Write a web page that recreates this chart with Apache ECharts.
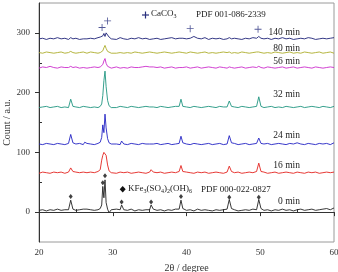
<!DOCTYPE html>
<html>
<head>
<meta charset="utf-8">
<script src="https://cdn.jsdelivr.net/npm/echarts@6/dist/echarts.min.js"></script>
<style>
  html, body { margin: 0; padding: 0; background: #fff; }
  #chart { width: 338px; height: 272px; }
</style>
</head>
<body>
<div id="chart"></div>
<script>
// 2θ positions, shared by every pattern (finer around the peaks)
const twoTheta = [
  20, 20.5, 21, 21.5, 22, 22.5, 23, 23.5, 24,
  24.3, 24.6,
  25, 25.5, 26,
  26.2, 26.5,
  27, 27.5, 28,
  28.3, 28.5, 28.65, 28.8, 28.95, 29.1, 29.3, 29.5, 29.8,
  30, 30.5, 31,
  31.2, 31.5,
  32, 32.5, 33, 33.5, 34, 34.5, 35,
  35.2, 35.5,
  36, 36.5, 37, 37.5, 38, 38.5, 39,
  39.25, 39.5,
  40, 40.5, 41, 41.5, 42, 42.5, 43, 43.5, 44, 44.5, 45, 45.5,
  45.8, 46.1,
  46.5, 47, 47.5, 48, 48.5, 49, 49.5,
  49.8, 50.1,
  50.5, 51, 51.5, 52, 52.5, 53, 53.5, 54, 54.5, 55, 55.5, 56, 56.5, 57, 57.5, 58, 58.5, 59, 59.5, 60
]

// intensity above each pattern's own baseline
const counts0 = [
  1, 2, 0, 2, 1, 3, 1, 2, 2,
  18, 3,
  1, 2, 3,
  6, 3,
  2, 1, 2,
  4, 10, 41, 22, 52, 14, 3, -3, 2,
  1, 3, 2,
  10, 2,
  1, 3, 0, 2, 1, 2, 2,
  10, 3,
  1, 2, 0, 2, 1, 3, 3,
  18, 4,
  1, 2, 0, 3, 1, 2, 1, 0, 2, 1, 2, 3,
  19, 4,
  2, 0, 1, 2, 1, 3, 2,
  19, 4,
  1, 2, 0, 2, 1, 3, 1, 2, 0, 2, 3, 1, 2, 3, 1, 2, 3, 4, 2, 5
]
const counts16 = [
  0, 2, 1, 0, 2, 1, 2, 0, 2,
  9, 3,
  2, 1, 2,
  3, 1,
  2, 1, 3,
  6, 22, 30, 35, 38, 30, 14, 4, 1,
  2, 0, 2,
  5, 1,
  2, 0, 1, 2, 1, 0, 2,
  6, 2,
  1, 2, 0, 1, 2, 1, 3,
  13, 3,
  2, 1, 0, 2, 1, 2, 0, 1, 2, 1, 0, 2,
  12, 3,
  1, 2, 0, 1, 2, 1, 3,
  17, 3,
  2, 0, 1, 2, 0, 1, 2, 1, 0, 2, 1, 0, 2, 1, 2, 0, 1, 2, 1, 2
]
const counts24 = [
  1, 0, 2, 1, 0, 2, 1, 0, 2,
  17, 3,
  1, 2, 0,
  4, 2,
  1, 0, 2,
  4, 12, 33, 20, 51, 28, 10, 3, 1,
  2, 1, 0,
  6, 1,
  0, 2, 1, 0, 2, 1, 1,
  3, 1,
  2, 0, 1, 2, 0, 1, 2,
  14, 3,
  1, 0, 2, 1, 0, 1, 2, 0, 1, 2, 0, 1,
  15, 3,
  2, 0, 1, 2, 0, 1, 2,
  11, 2,
  1, 2, 0, 1, 2, 1, 0, 2, 1, 3, 1, 0, 2, 1, 0, 2, 1, 2, 0, 3
]
const counts32 = [
  0, 1, 2, 0, 1, 2, 0, 1, 0,
  14, 2,
  1, 0, 2,
  2, 1,
  0, 1, 0,
  2, 6, 20, 45, 61, 35, 12, 3, 0,
  1, 0, 2,
  5, 1,
  0, 2, 1, 0, 1, 2, 1,
  3, 1,
  0, 2, 1, 0, 1, 2, 2,
  14, 2,
  1, 0, 2, 1, 0, 1, 2, 1, 0, 2, 1, 1,
  11, 2,
  1, 0, 2, 1, 0, 1, 2,
  18, 2,
  0, 1, 2, 0, 1, 0, 2, 1, 0, 1, 2, 0, 1, 2, 1, 0, 2, 1, 0, 2
]
const counts56 = [
  0, 2, 1, 3, 1, 0, 2, 1, 1,
  3, 1,
  2, 0, 1,
  2, 0,
  1, 2, 1,
  2, 3, 6, 12, 16, 8, 3, 1, 0,
  1, 2, 0,
  2, 1,
  0, 2, 1, 1, 2, 3, 2,
  3, 2,
  1, 2, 0, 1, 2, 0, 1,
  3, 1,
  2, 0, 1, 2, 0, 1, 2, 1, 0, 2, 1, 0,
  2, 1,
  0, 1, 2, 0, 1, 2, 1,
  3, 1,
  0, 2, 1, 0, 1, 2, 0, 1, 2, 0, 1, 2, 1, 0, 2, 1, 0, 1, 2, 1
]
const counts80 = [
  1, 0, 2, 1, 0, 1, 2, 0, 1,
  3, 1,
  0, 1, 2,
  1, 0,
  2, 1, 0,
  1, 2, 4, 9, 13, 8, 3, 1, 0,
  1, 0, 1,
  2, 0,
  1, 0, 2, 1, 0, 1, 2,
  2, 1,
  0, 1, 2, 1, 0, 1, 2,
  2, 1,
  0, 2, 1, 0, 1, 2, 0, 1, 0, 1, 2, 1,
  2, 0,
  1, 0, 2, 1, 0, 1, 2,
  2, 1,
  0, 1, 0, 2, 1, 0, 1, 2, 0, 1, 0, 2, 1, 0, 1, 2, 0, 1, 2, 0
]
const counts140 = [
  0, 1, -1, 1, 0, 2, 0, 1, -1,
  2, 0,
  1, -1, 0,
  2, 0,
  1, 0, 2,
  3, 2, 5, 9, 4, 10, 13, 3, 0,
  1, -1, 2,
  1, 0,
  -1, 1, 0, 2, 0, 1, -1,
  2, 0,
  1, -1, 0, 1, 2, 0, 1,
  2, 1,
  0, 1, 4, 1, 0, 2, -1, 1, 0, 1, -1, 0,
  2, 0,
  1, 0, -1, 1, 0, 2, 1,
  4, 1,
  0, 1, -1, 1, 0, 2, 0, 1, -1, 0, 1, 0, 2, 1, -1, 0, 1, 0, 1, 2
]

const patterns = [counts0, counts16, counts24, counts32, counts56, counts80, counts140]
const timeLabels = ['0 min', '16 min', '24 min', '32 min', '56 min', '80 min', '140 min']
const baselines = [2, 65, 113, 175, 241, 266, 290]

// phase markers above the peaks
const jarositePeaks = [24.3, 28.65, 28.95, 31.2, 35.2, 39.25, 45.8, 49.8]
const jarositeMarkY = [26, 49, 61, 17, 17, 26, 25, 25]
const calcitePeaks = [28.55, 29.3, 40.5, 49.7]
const calciteMarkY = [309, 320, 307, 306]

const lineColors = ['#222222', '#e3241f', '#2323c4', '#1f9580', '#cc2ccc', '#adad2a', '#1e2378']
const serif = '"Liberation Serif", "DejaVu Serif", serif'
const plusPath = 'path://M4.4,0H5.6V4.4H10V5.6H5.6V10H4.4V5.6H0V4.4H4.4Z'

let chart = echarts.init(document.getElementById('chart'))

let series = patterns.map((counts, i) => ({
  name: timeLabels[i],
  type: 'line',
  showSymbol: false,
  data: twoTheta.map((x, j) => [x, baselines[i] + counts[j]]),
  lineStyle: { width: 0.9, color: lineColors[i] },
  itemStyle: { color: lineColors[i] },
  z: 2,
}))

series.push({
  type: 'scatter',
  symbol: 'diamond',
  symbolSize: [4, 5],
  data: jarositePeaks.map((x, j) => [x, jarositeMarkY[j]]),
  itemStyle: { color: '#111' },
  z: 3,
})
series.push({
  type: 'scatter',
  symbol: plusPath,
  symbolSize: 7,
  data: calcitePeaks.map((x, j) => [x, calciteMarkY[j]]),
  itemStyle: { color: '#28307e' },
  z: 3,
})

let axisText = { color: '#333', fontFamily: serif, fontSize: 9 }

let option = {
  animation: false,
  backgroundColor: '#fff',
  grid: {
    left: 39, right: 4, top: 3, bottom: 30,
    outerBoundsMode: 'none',
    show: true,
    borderColor: '#9a9a9a',
    borderWidth: 1,
  },
  xAxis: [
    {
      type: 'value',
      min: 20, max: 60, interval: 10,
      position: 'bottom',
      name: '2θ / degree',
      nameLocation: 'middle',
      nameGap: 21,
      nameTextStyle: { color: '#333', fontFamily: serif, fontSize: 10 },
      axisLine: { lineStyle: { color: '#333', width: 1 } },
      axisTick: { length: 4, lineStyle: { color: '#333' } },
      axisLabel: { ...axisText, margin: 6 },
      splitLine: { show: false },
    },
    {
      type: 'value',
      min: 20, max: 60,
      position: 'bottom',
      axisLine: { show: false },
      axisTick: { inside: true, length: 3, customValues: [25, 35, 45, 55], lineStyle: { color: '#333' } },
      axisLabel: { show: false },
      splitLine: { show: false },
    },
  ],
  yAxis: [
    {
      type: 'value',
      min: -50, max: 350,
      position: 'left',
      name: 'Count / a.u.',
      nameLocation: 'middle',
      nameGap: 27,
      nameMoveOverlap: false,
      nameTextStyle: { color: '#333', fontFamily: serif, fontSize: 10 },
      axisLine: { show: true, lineStyle: { color: '#333', width: 1 } },
      axisTick: { show: true, length: 4, customValues: [0, 100, 200, 300], lineStyle: { color: '#333' } },
      axisLabel: { ...axisText, margin: 9, customValues: [0, 100, 200, 300] },
      splitLine: { show: false },
    },
    {
      type: 'value',
      min: -50, max: 350,
      position: 'left',
      axisLine: { show: false },
      axisTick: { show: true, inside: true, length: 3, customValues: [50, 150, 250], lineStyle: { color: '#333' } },
      axisLabel: { show: false },
      splitLine: { show: false },
    },
  ],
  series: series,
  graphic: [
    // CaCO3 key
    { type: 'line', shape: { x1: 142, y1: 15, x2: 149, y2: 15 }, style: { stroke: '#28307e', lineWidth: 1.2 } },
    { type: 'line', shape: { x1: 145.5, y1: 11.5, x2: 145.5, y2: 18.5 }, style: { stroke: '#28307e', lineWidth: 1.2 } },
    {
      type: 'text', left: 151, top: 9,
      style: {
        text: 'CaCO{s|3}',
        fill: '#222', font: '9px ' + serif,
        rich: { s: { fontSize: 6, fontFamily: serif, fill: '#222', padding: [5, 0, 0, 0] } },
      },
    },
    { type: 'text', left: 196, top: 10, style: { text: 'PDF 001-086-2339', fill: '#222', font: '9px ' + serif } },
    // jarosite key
    { type: 'polygon', shape: { points: [[122.7, 186], [125.7, 189.3], [122.7, 192.6], [119.7, 189.3]] }, style: { fill: '#111' } },
    {
      type: 'text', left: 128, top: 184,
      style: {
        text: 'KFe{s|3}(SO{s|4}){s|2}(OH){s|6}',
        fill: '#222', font: '9px ' + serif,
        rich: { s: { fontSize: 6, fontFamily: serif, fill: '#222', padding: [5, 0, 0, 0] } },
      },
    },
    { type: 'text', left: 201, top: 185, style: { text: 'PDF 000-022-0827', fill: '#222', font: '9px ' + serif } },
  ].concat(timeLabels.map((t, i) => ({
    type: 'text',
    right: 38,
    top: [196, 160, 130, 89, 56, 43, 27][i],
    style: { text: t, fill: '#222', font: '9.5px ' + serif },
  }))),
}

chart.setOption(option)
</script>
</body>
</html>
